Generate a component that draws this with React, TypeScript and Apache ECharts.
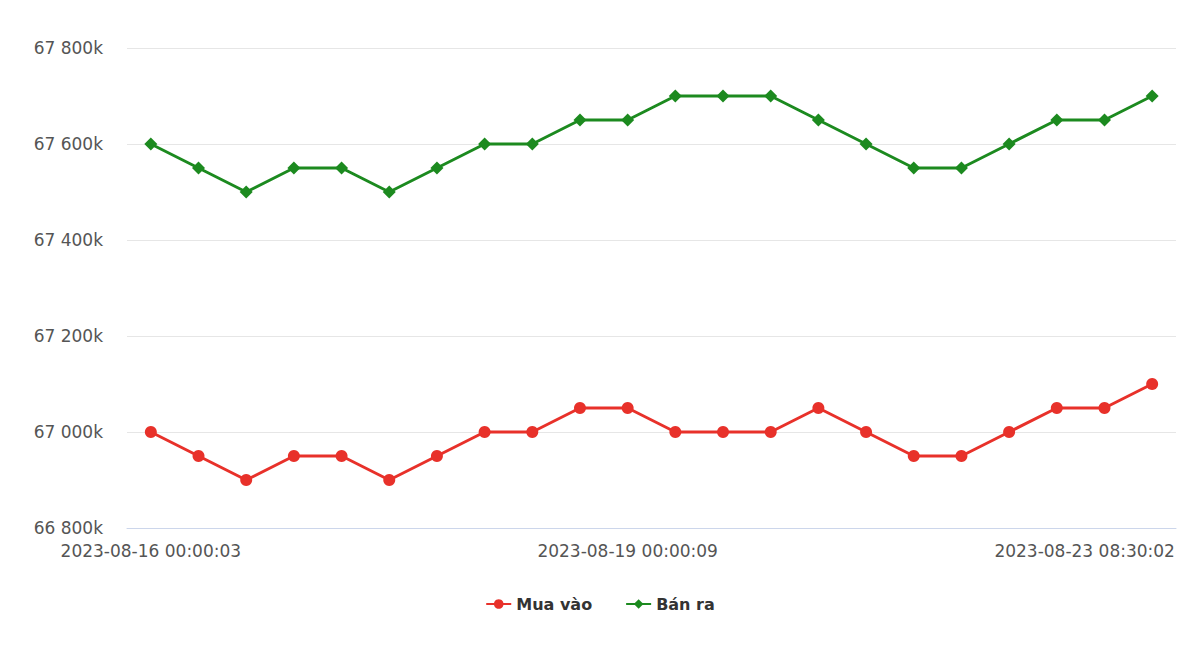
import React, { useEffect, useRef } from "react";
import * as echarts from "echarts";

const timestamps: string[] = [
  "2023-08-16 00:00:03",
  "2023-08-16 08:30:02",
  "2023-08-16 14:00:05",
  "2023-08-17 00:00:04",
  "2023-08-17 08:30:03",
  "2023-08-17 14:00:02",
  "2023-08-18 00:00:06",
  "2023-08-18 08:30:04",
  "2023-08-18 14:00:03",
  "2023-08-18 16:30:02",
  "2023-08-19 00:00:09",
  "2023-08-19 08:30:02",
  "2023-08-20 00:00:05",
  "2023-08-20 08:30:03",
  "2023-08-21 00:00:04",
  "2023-08-21 08:30:02",
  "2023-08-21 14:00:03",
  "2023-08-22 00:00:04",
  "2023-08-22 08:30:03",
  "2023-08-22 14:00:02",
  "2023-08-23 00:00:05",
  "2023-08-23 08:30:02",
];

const shownLabelIndices: number[] = [0, 10, 21];

const muaVao: number[] = [
  67000000, 66950000, 66900000, 66950000, 66950000, 66900000, 66950000,
  67000000, 67000000, 67050000, 67050000, 67000000, 67000000, 67000000,
  67050000, 67000000, 66950000, 66950000, 67000000, 67050000, 67050000,
  67100000,
];

const banRa: number[] = [
  67600000, 67550000, 67500000, 67550000, 67550000, 67500000, 67550000,
  67600000, 67600000, 67650000, 67650000, 67700000, 67700000, 67700000,
  67650000, 67600000, 67550000, 67550000, 67600000, 67650000, 67650000,
  67700000,
];

const FONT = "'DejaVu Sans', Verdana, sans-serif";

function fmtY(v: number): string {
  const k = Math.round(v / 1000);
  return k.toString().replace(/\B(?=(\d{3})+(?!\d))/g, " ") + "k";
}

export default function App() {
  const ref = useRef<HTMLDivElement>(null);
  useEffect(() => {
    if (!ref.current) return;
    const chart = echarts.init(ref.current, undefined, { renderer: "svg" });
    const last = timestamps.length - 1;
    chart.setOption({
      animation: false,
      backgroundColor: "#ffffff",
      grid: { left: 127, right: 24, top: 48, bottom: 117, containLabel: false },
      legend: {
        top: 591,
        left: "center",
        itemWidth: 25,
        itemHeight: 12,
        itemGap: 33,
        textStyle: { fontFamily: FONT, fontSize: 16, fontWeight: "bold", color: "#333333" },
        data: ["Mua vào", "Bán ra"],
      },
      xAxis: {
        type: "category",
        boundaryGap: true,
        data: timestamps,
        axisLine: { lineStyle: { color: "#ccd6eb", width: 1 } },
        axisTick: { show: false },
        axisLabel: {
          interval: (idx: number) => shownLabelIndices.includes(idx),
          margin: 14,
          fontFamily: FONT,
          fontSize: 17,
          color: "#555555",
          formatter: (val: string, idx: number) =>
            idx === last ? "{last|" + val + "}" : val,
          rich: {
            last: {
              fontFamily: FONT,
              fontSize: 17,
              color: "#555555",
              padding: [0, 135, 0, 0],
            },
          },
        },
        splitLine: { show: false },
      },
      yAxis: {
        type: "value",
        min: 66800000,
        max: 67800000,
        interval: 200000,
        axisLine: { show: false },
        axisTick: { show: false },
        axisLabel: {
          margin: 24,
          fontFamily: FONT,
          fontSize: 17,
          color: "#555555",
          formatter: fmtY,
        },
        splitLine: { lineStyle: { color: "#e6e6e6", width: 1 } },
      },
      series: [
        {
          name: "Mua vào",
          type: "line",
          data: muaVao,
          color: "#e8312a",
          symbol: "circle",
          symbolSize: 12,
          lineStyle: { width: 3, color: "#e8312a" },
          itemStyle: { color: "#e8312a" },
        },
        {
          name: "Bán ra",
          type: "line",
          data: banRa,
          color: "#1c8a1f",
          symbol: "diamond",
          symbolSize: 13,
          lineStyle: { width: 3, color: "#1c8a1f" },
          itemStyle: { color: "#1c8a1f" },
        },
      ],
    });
    return () => chart.dispose();
  }, []);
  return (
    <div
      ref={ref}
      style={{ position: "fixed", left: 0, top: 0, width: 1200, height: 645 }}
    />
  );
}
